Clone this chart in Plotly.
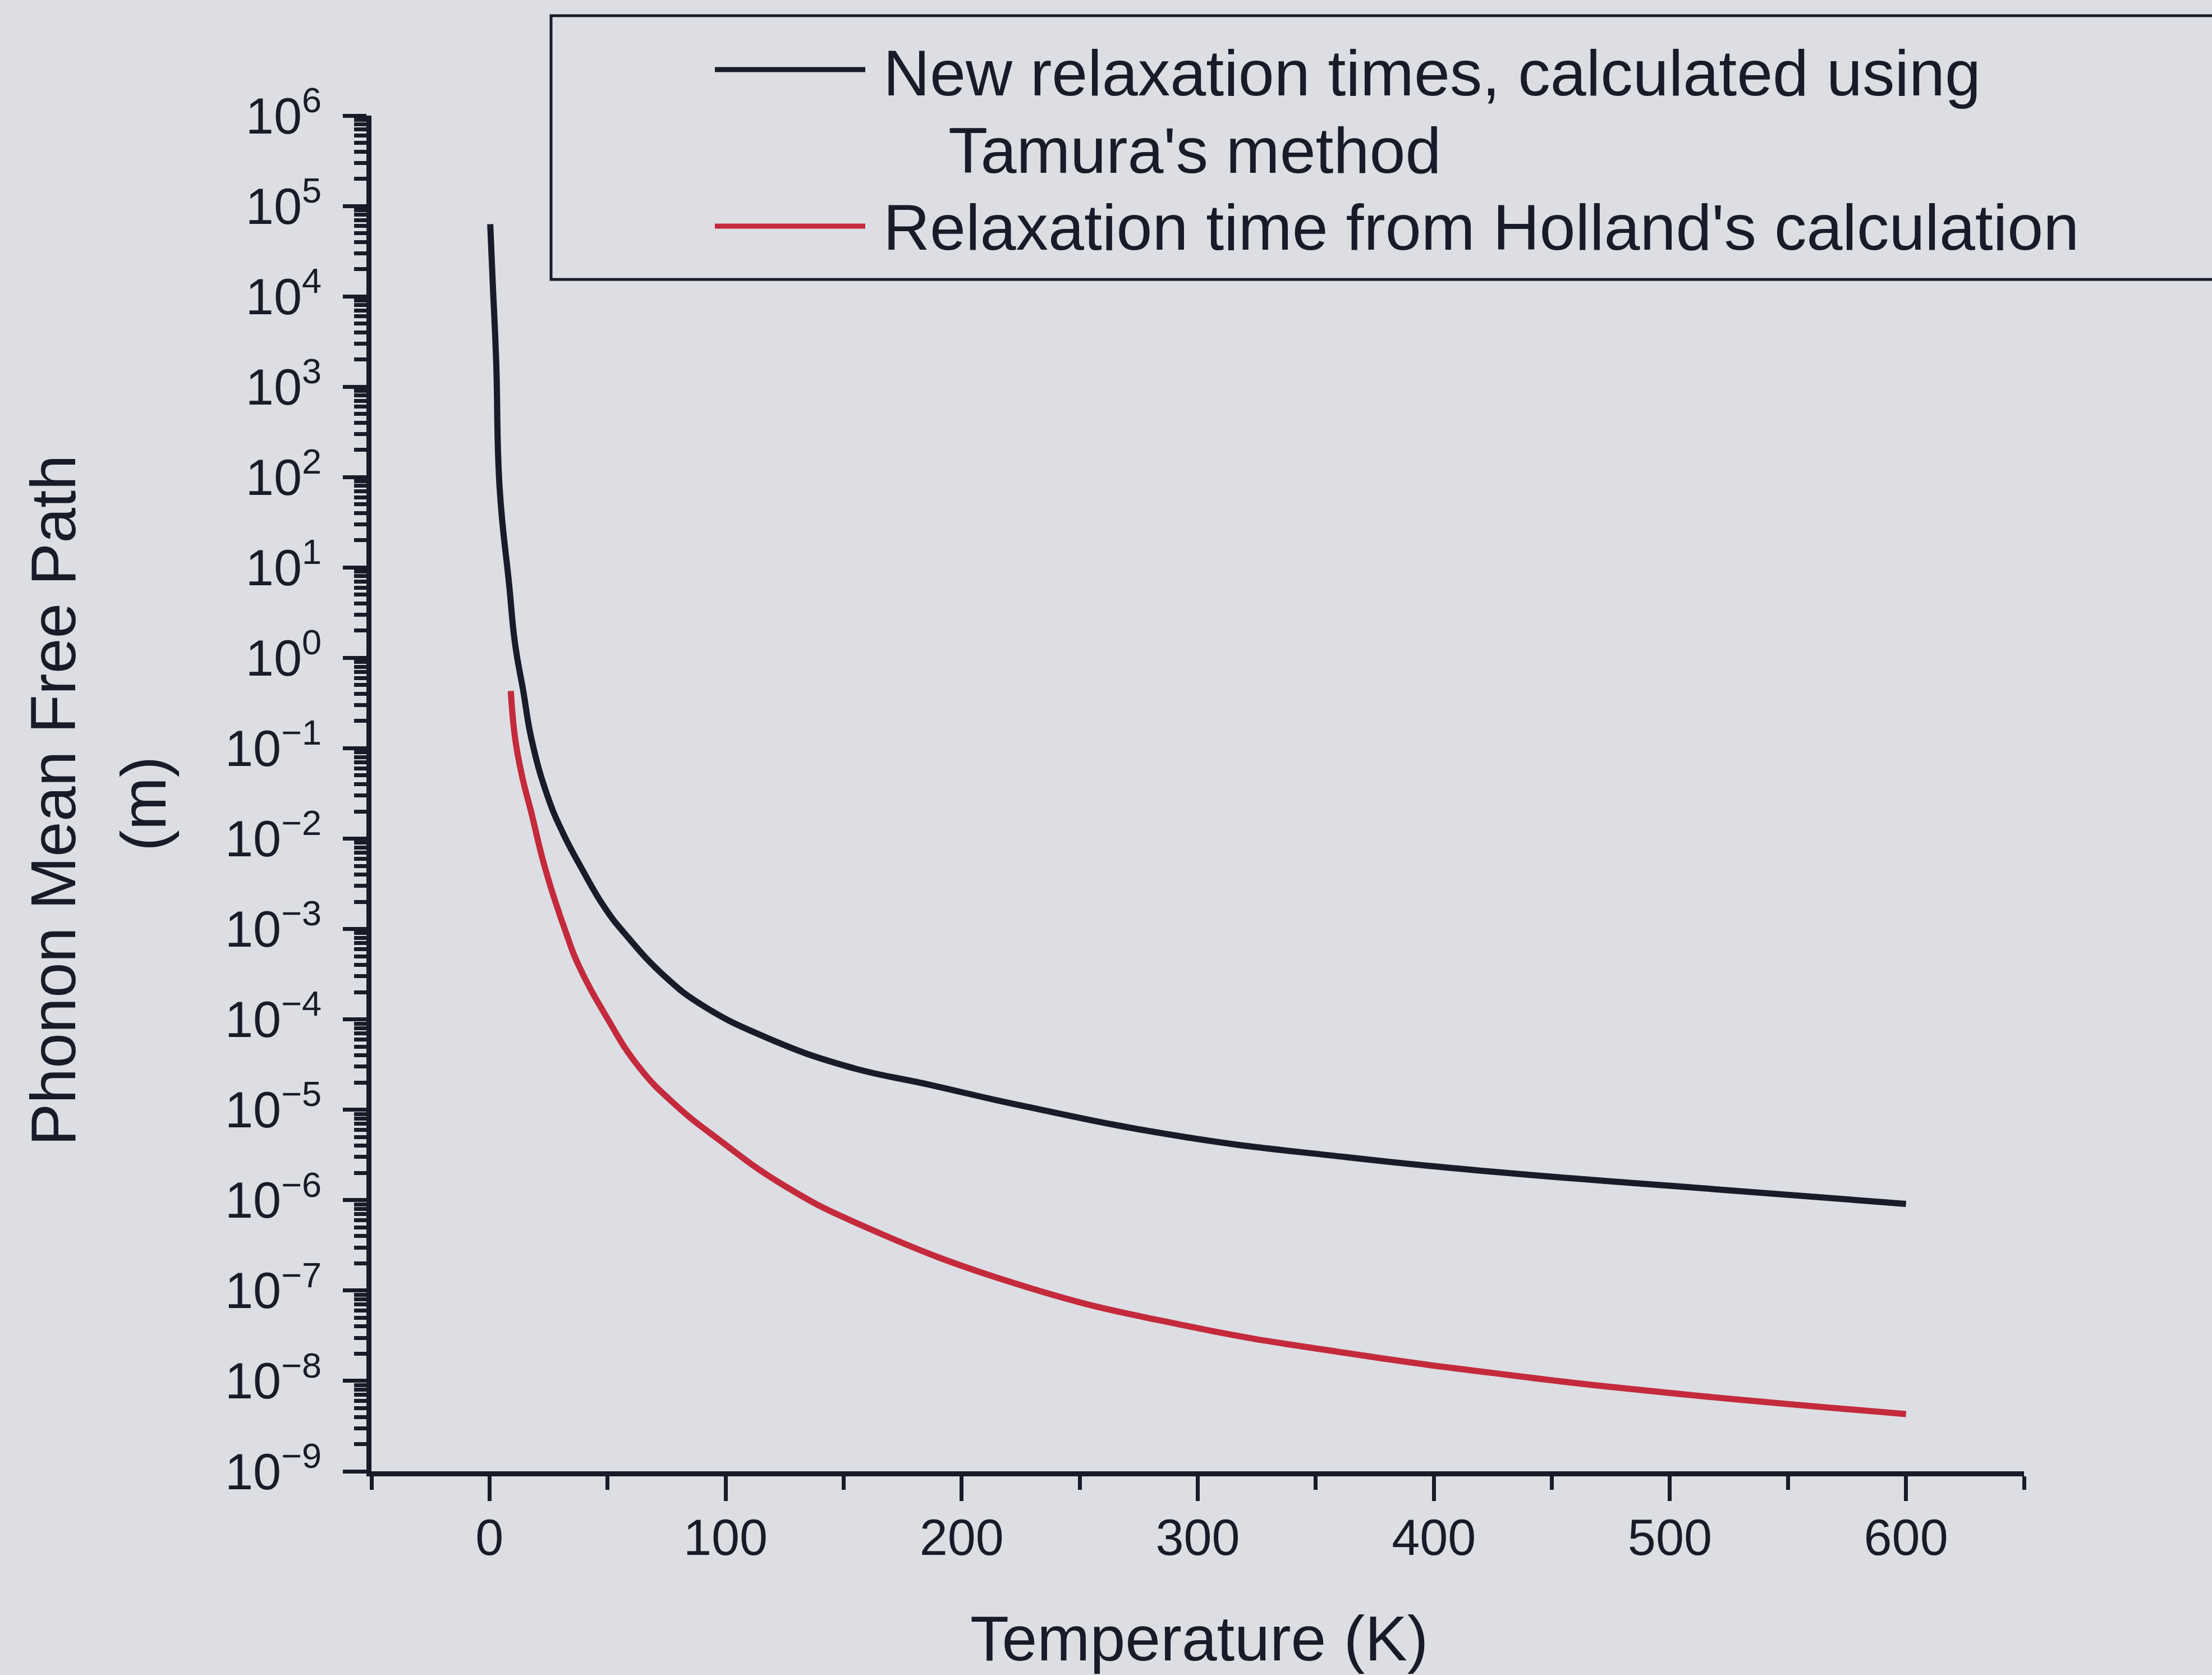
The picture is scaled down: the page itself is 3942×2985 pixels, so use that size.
import plotly.graph_objects as go

# ---------------- data ----------------
temp_new = [0.3, 1.4, 2.8, 4.3, 8.3, 10.9, 14.3, 17.8, 24.5, 31.0, 39.2, 48.7, 57.3,
            74.2, 90.6, 117.9, 151.9, 186.1, 226.3, 294.5, 362.7, 431, 499, 600]
mfp_new = [6.3e4, 1.35e4, 2.0e3, 75, 6.5, 1.38, 0.43, 0.126, 0.030, 0.0117, 4.6e-3,
           1.74e-3, 8.9e-4, 3.0e-4, 1.41e-4, 6.2e-5, 3.0e-5, 1.9e-5, 1.1e-5, 5.0e-6,
           3.0e-6, 2.0e-6, 1.45e-6, 9.1e-7]

temp_holland = [9.0, 10.9, 13.8, 17.8, 22.6, 27.3, 32.8, 37.3, 49.7, 63.2, 78.2, 97.5,
                124.8, 158.1, 226.3, 294.5, 362.7, 431, 499, 600]
mfp_holland = [0.43, 0.126, 0.049, 0.019, 5.8e-3, 2.24e-3, 8.5e-4, 4.2e-4, 1.05e-4,
               3.0e-5, 1.17e-5, 4.6e-6, 1.45e-6, 5.2e-7, 1.12e-7, 4.1e-8, 2.04e-8,
               1.17e-8, 7.4e-9, 4.3e-9]

name_new = "New relaxation times, calculated using Tamura's method"
name_holland = "Relaxation time from Holland's calculation"
legend_new_lines = ["New relaxation times, calculated using", "Tamura's method"]

x_tick_vals = [0, 100, 200, 300, 400, 500, 600]
y_tick_exps = [-9, -8, -7, -6, -5, -4, -3, -2, -1, 0, 1, 2, 3, 4, 5, 6]

x_title = "Temperature (K)"
y_title_lines = ["Phonon Mean Free Path", "(m)"]

# ---------------- style ----------------
W, H = 3942, 2985
L, R, T, B = 662, 3607, 206, 2622
BG = "#dcdee3"
INK = "#191c28"
RED = "#c42a3c"
FONT = "Liberation Sans, Arial, sans-serif"


def px_x(X):
    return (X - L) / (R - L)


def px_y(Y):
    return (B - Y) / (B - T)


y_tick_vals = [10.0 ** e for e in y_tick_exps]
y_tick_text = ["10<sup>%s</sup>" % (str(e) if e >= 0 else "\u2212" + str(-e)) for e in y_tick_exps]

fig = go.Figure()
fig.add_trace(go.Scatter(x=temp_new, y=mfp_new, mode="lines", name=name_new,
                         line=dict(color=INK, width=11, shape="spline", smoothing=1.3),
                         showlegend=False))
fig.add_trace(go.Scatter(x=temp_holland, y=mfp_holland, mode="lines", name=name_holland,
                         line=dict(color=RED, width=11, shape="spline", smoothing=1.3),
                         showlegend=False))

fig.update_layout(
    width=W, height=H,
    margin=dict(l=L, r=W - R, t=T, b=H - B, pad=0),
    paper_bgcolor=BG, plot_bgcolor=BG,
    font=dict(family=FONT, color=INK, size=90),
    showlegend=False,
)

fig.update_xaxes(
    range=[-50, 650], showgrid=False, zeroline=False,
    showline=True, linecolor=INK, linewidth=9,
    ticks="outside", ticklen=44, tickwidth=7, tickcolor=INK,
    tickmode="array", tickvals=x_tick_vals,
    tickfont=dict(size=90, color=INK, family=FONT),
    ticklabelstandoff=-12,
    minor=dict(dtick=50, tick0=0, ticks="outside", ticklen=24, tickwidth=7, tickcolor=INK, showgrid=False),
)
fig.update_yaxes(
    type="log", range=[-9, 6], showgrid=False, zeroline=False,
    showline=True, linecolor=INK, linewidth=9,
    ticks="outside", ticklen=42, tickwidth=7, tickcolor=INK,
    tickmode="array", tickvals=y_tick_vals, ticktext=y_tick_text,
    tickfont=dict(size=90, color=INK, family=FONT),
    ticklabelstandoff=20,
    minor=dict(dtick="D1", ticks="outside", ticklen=22, tickwidth=7, tickcolor=INK, showgrid=False),
)

# ---------------- axis titles ----------------
fig.add_annotation(text=x_title, xref="paper", yref="paper", x=px_x(2137), y=px_y(2920),
                   xanchor="center", yanchor="middle", showarrow=False,
                   font=dict(size=113, color=INK, family=FONT))
fig.add_annotation(text=y_title_lines[0], xref="paper", yref="paper", x=px_x(95), y=px_y(1427),
                   xanchor="center", yanchor="middle", textangle=-90, showarrow=False,
                   font=dict(size=113, color=INK, family=FONT))
fig.add_annotation(text=y_title_lines[1], xref="paper", yref="paper", x=px_x(256), y=px_y(1432),
                   xanchor="center", yanchor="middle", textangle=-90, showarrow=False,
                   font=dict(size=113, color=INK, family=FONT))

# ---------------- legend (drawn manually to match long samples) ----------------
fig.add_shape(type="rect", xref="paper", yref="paper",
              x0=px_x(982), x1=px_x(4100), y0=px_y(498), y1=px_y(28),
              line=dict(color=INK, width=5), fillcolor="rgba(0,0,0,0)", layer="above")
fig.add_shape(type="line", xref="paper", yref="paper",
              x0=px_x(1274), x1=px_x(1542), y0=px_y(124), y1=px_y(124),
              line=dict(color=INK, width=9))
fig.add_shape(type="line", xref="paper", yref="paper",
              x0=px_x(1274), x1=px_x(1542), y0=px_y(403), y1=px_y(403),
              line=dict(color=RED, width=9))
fig.add_annotation(text=legend_new_lines[0], xref="paper", yref="paper", x=px_x(1572), y=px_y(130),
                   xanchor="left", yanchor="middle", showarrow=False,
                   font=dict(size=115, color=INK, family=FONT))
fig.add_annotation(text=legend_new_lines[1], xref="paper", yref="paper", x=px_x(1688), y=px_y(268),
                   xanchor="left", yanchor="middle", showarrow=False,
                   font=dict(size=115, color=INK, family=FONT))
fig.add_annotation(text=name_holland, xref="paper", yref="paper", x=px_x(1572), y=px_y(405),
                   xanchor="left", yanchor="middle", showarrow=False,
                   font=dict(size=115, color=INK, family=FONT))

fig.write_html("out.html")
